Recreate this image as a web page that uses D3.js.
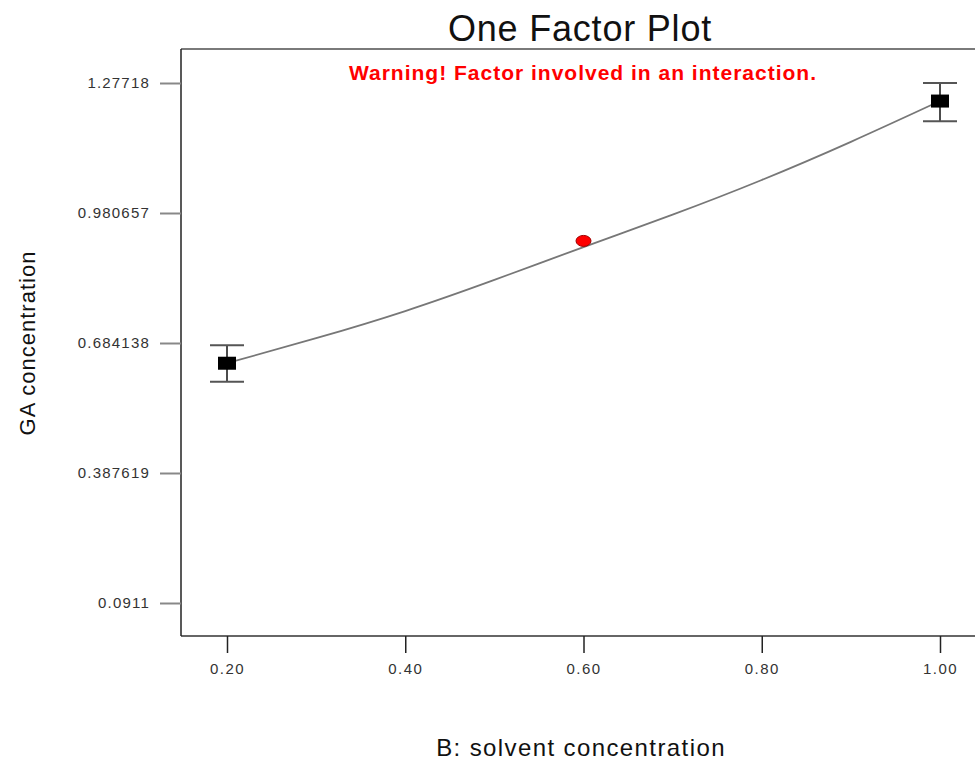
<!DOCTYPE html>
<html lang="en">
<head>
  <meta charset="UTF-8">
  <title>One Factor Plot</title>
  <script src="https://cdn.jsdelivr.net/npm/d3@7"></script>
  <style>
    body { margin: 0; background: #fff; overflow: hidden; }
    text { font-family: "Liberation Sans", Arial, sans-serif; }
  </style>
</head>
<body>
  <div id="chart"></div>
  <script>
    const xTicks = [0.20, 0.40, 0.60, 0.80, 1.00];
    const yTicks = [0.0911, 0.387619, 0.684138, 0.980657, 1.27718];

    // design points with LSD bars
    const designX = [0.2, 1.0];
    const designMean = [0.638, 1.236];
    const designLow = [0.596, 1.190];
    const designHigh = [0.679, 1.277];

    // predicted curve
    const curveX = [0.2, 0.3, 0.4, 0.5, 0.6, 0.7, 0.8, 0.9, 1.0];
    const curveY = [0.638, 0.695, 0.757, 0.828, 0.903, 0.977, 1.056, 1.143, 1.236];

    // actual run shown as red dot
    const actualX = [0.6];
    const actualY = [0.917];

    const width = 975, height = 760;
    const frame = { left: 181, top: 49, bottom: 636, right: 990 };

    const svg = d3.select('#chart').append('svg')
      .attr('width', width)
      .attr('height', height);

    const x = d3.scaleLinear().domain([0.2, 1.0]).range([227, 940]);
    const y = d3.scaleLinear().domain([0.0911, 1.27718]).range([603, 83]);

    // frame
    svg.append('line')
      .attr('x1', frame.left).attr('x2', frame.right)
      .attr('y1', frame.top).attr('y2', frame.top)
      .attr('stroke', '#7a7a7a').attr('stroke-width', 2);
    svg.append('line')
      .attr('x1', frame.left).attr('x2', frame.right)
      .attr('y1', frame.bottom).attr('y2', frame.bottom)
      .attr('stroke', '#666').attr('stroke-width', 2);
    svg.append('line')
      .attr('x1', frame.left).attr('x2', frame.left)
      .attr('y1', frame.top).attr('y2', frame.bottom)
      .attr('stroke', '#222').attr('stroke-width', 1.5);

    // y axis
    const yAxis = svg.append('g')
      .attr('transform', `translate(${frame.left},0)`)
      .call(d3.axisLeft(y).tickValues(yTicks).tickSize(21).tickPadding(10)
        .tickFormat(d => String(d)));
    yAxis.select('.domain').remove();
    yAxis.selectAll('line').attr('stroke', '#888').attr('stroke-width', 2);
    yAxis.selectAll('text').attr('font-size', 15).attr('fill', '#333')
      .attr('letter-spacing', 1.2)
      .style('font-family', '"Liberation Sans", Arial, sans-serif');

    // x axis
    const xAxis = svg.append('g')
      .attr('transform', `translate(0,${frame.bottom})`)
      .call(d3.axisBottom(x).tickValues(xTicks).tickSize(17).tickPadding(10)
        .tickFormat(d3.format('.2f')));
    xAxis.select('.domain').remove();
    xAxis.selectAll('line').attr('stroke', '#222').attr('stroke-width', 1.5);
    xAxis.selectAll('text').attr('font-size', 15).attr('fill', '#333')
      .attr('letter-spacing', 1.5)
      .style('font-family', '"Liberation Sans", Arial, sans-serif');

    // predicted curve
    const line = d3.line()
      .x((d, i) => x(curveX[i]))
      .y(d => y(d))
      .curve(d3.curveNatural);
    svg.append('path')
      .datum(curveY)
      .attr('d', line)
      .attr('fill', 'none')
      .attr('stroke', '#777')
      .attr('stroke-width', 1.8);

    // error bars
    const bars = svg.append('g');
    designX.forEach((dx, i) => {
      const cx = x(dx);
      bars.append('line')
        .attr('x1', cx).attr('x2', cx)
        .attr('y1', y(designHigh[i])).attr('y2', y(designLow[i]))
        .attr('stroke', '#111').attr('stroke-width', 1.5);
      [designHigh[i], designLow[i]].forEach(v => {
        bars.append('line')
          .attr('x1', cx - 17).attr('x2', cx + 17)
          .attr('y1', y(v)).attr('y2', y(v))
          .attr('stroke', '#555').attr('stroke-width', 2);
      });
      bars.append('rect')
        .attr('x', cx - 9).attr('y', y(designMean[i]) - 6.5)
        .attr('width', 18).attr('height', 13)
        .attr('fill', '#000');
    });

    // actual point
    svg.selectAll('ellipse.actual')
      .data(actualX)
      .join('ellipse')
      .attr('class', 'actual')
      .attr('cx', d => x(d))
      .attr('cy', (d, i) => y(actualY[i]))
      .attr('rx', 7.5).attr('ry', 5.5)
      .attr('fill', '#ff0000')
      .attr('stroke', '#a00000')
      .attr('stroke-width', 1);

    // titles
    svg.append('text')
      .attr('x', 580).attr('y', 41)
      .attr('text-anchor', 'middle')
      .attr('font-size', 36)
      .attr('letter-spacing', 0.8)
      .attr('fill', '#111')
      .text('One Factor Plot');

    svg.append('text')
      .attr('x', 583).attr('y', 80)
      .attr('text-anchor', 'middle')
      .attr('font-size', 21)
      .attr('font-weight', 'bold')
      .attr('letter-spacing', 1)
      .attr('fill', '#ff0000')
      .text('Warning! Factor involved in an interaction.');

    svg.append('text')
      .attr('transform', 'translate(35,343) rotate(-90)')
      .attr('text-anchor', 'middle')
      .attr('font-size', 22)
      .attr('letter-spacing', 1)
      .attr('fill', '#111')
      .text('GA concentration');

    svg.append('text')
      .attr('x', 581).attr('y', 756)
      .attr('text-anchor', 'middle')
      .attr('font-size', 24)
      .attr('letter-spacing', 1.4)
      .attr('fill', '#111')
      .text('B: solvent concentration');
  </script>
</body>
</html>
